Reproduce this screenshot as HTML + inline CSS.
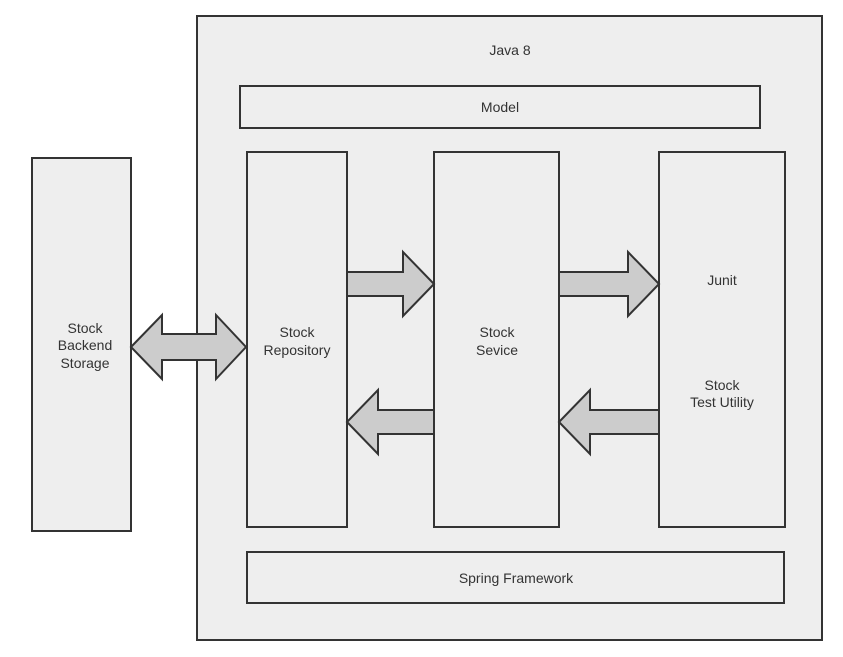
<!DOCTYPE html>
<html><head><meta charset="utf-8"><style>
html,body{margin:0;padding:0;background:#fff;}
svg text{font-family:"Liberation Sans",sans-serif;font-size:14px;fill:#333;text-anchor:middle;}
</style></head><body>
<svg width="843" height="652" xmlns="http://www.w3.org/2000/svg">
<g stroke="#333" stroke-width="2" fill="#eee">
<rect x="32" y="158" width="99" height="373"/>
<rect x="197" y="16" width="625" height="624"/>
<rect x="240" y="86" width="520" height="42"/>
<rect x="247" y="152" width="100" height="375"/>
<rect x="434" y="152" width="125" height="375"/>
<rect x="659" y="152" width="126" height="375"/>
<rect x="247" y="552" width="537" height="51"/>
</g>
<g stroke="#333" stroke-width="2" fill="#ccc" stroke-linejoin="miter">
<polygon points="131,347 162,315 162,334 216,334 216,315 246,347 216,379 216,360 162,360 162,379"/>
<polygon points="347,272 403,272 403,252 434,284 403,316 403,296 347,296"/>
<polygon points="434,410 378,410 378,390 347,422 378,454 378,434 434,434"/>
<polygon points="559,272 628,272 628,252 659,284 628,316 628,296 559,296"/>
<polygon points="659,410 590,410 590,390 559,422 590,454 590,434 659,434"/>
</g>
<text x="510" y="55">Java 8</text>
<text x="500" y="112">Model</text>
<text x="85" y="333">Stock</text>
<text x="85" y="350">Backend</text>
<text x="85" y="368">Storage</text>
<text x="297" y="337">Stock</text>
<text x="297" y="355">Repository</text>
<text x="497" y="337">Stock</text>
<text x="497" y="355">Sevice</text>
<text x="722" y="285">Junit</text>
<text x="722" y="390">Stock</text>
<text x="722" y="407">Test Utility</text>
<text x="516" y="583">Spring Framework</text>
</svg>
</body></html>
